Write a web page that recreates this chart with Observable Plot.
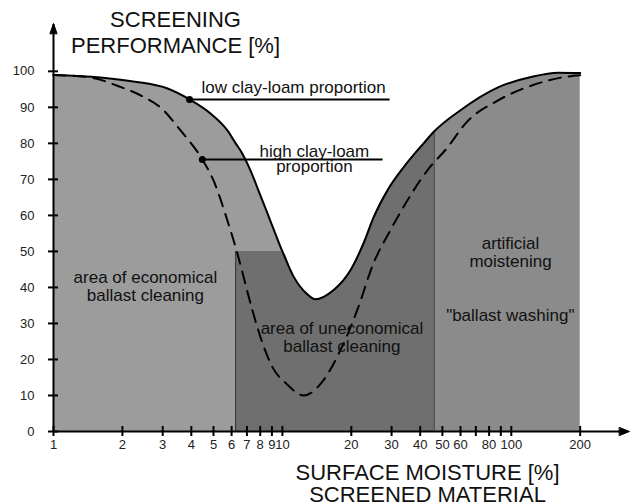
<!DOCTYPE html>
<html><head><meta charset="utf-8">
<script src="https://cdn.jsdelivr.net/npm/d3@7"></script>
<script src="https://cdn.jsdelivr.net/npm/@observablehq/plot@0.6"></script>
<style>
body{margin:0;background:#fff;}
#chart{width:632px;height:504px;}
</style>
</head><body><div id="chart"></div>
<script>
// Solid curve: low clay-loam proportion
const lowClayX = [1, 1.6, 2.23, 3.13, 3.93, 4.85, 5.75, 6.25, 6.56, 7.25, 8.02, 8.86, 10.0, 11.2, 12.9, 13.9, 16.7, 19.8, 22.6, 25.0, 28.8, 33.8, 41.4, 46, 60, 88, 122, 160, 200];
const lowClayY = [99, 98.3, 97.2, 95.3, 92.2, 88.3, 83.6, 80, 78, 72.5, 65.5, 58.5, 50, 43, 38, 36.7, 39.2, 44.7, 52.2, 59.4, 67, 73.3, 80, 83.3, 89.2, 95.6, 98.4, 99.6, 99.5];
// Dashed curve: high clay-loam proportion
const highClayX = [1, 1.45, 1.9, 2.46, 2.93, 3.59, 4.47, 5.0, 5.75, 6.36, 6.7, 7.4, 8.2, 9.06, 10.4, 12.4, 15.1, 17.9, 21.2, 25, 29.6, 35.2, 43, 52.7, 63, 88, 122, 170, 200];
const highClayY = [99, 98.3, 96, 93, 90, 83.6, 75.5, 69.7, 58.6, 49.4, 44, 33.6, 24.4, 17.8, 13.3, 10, 14.2, 22.5, 33.6, 46.7, 55.8, 64.2, 72.5, 78.9, 85.5, 92, 96, 98.4, 98.9];

const zoneBounds = [6.25, 46];
const zoneTops = [50, 83.3];
const rectTop = 50;
const curveMinX = 13.9;

const xTickValues = [1,2,3,4,5,6,7,8,9,10,20,30,40,50,60,70,80,90,100,200];
const xTickLabels = ["1","2","3","4","5","6","7","8","9","10","20","30","40","50","60","","80","","100","200"];
const yTickValues = [0,10,20,30,40,50,60,70,80,90,100];

const markerX = [3.93, 4.47];
const markerY = [92.2, 75.5];
const leaderEndX = [29.4, 27.4];

const noteText = ["low clay-loam proportion", "high clay-loam\nproportion"];
const noteX = [11.2, 13.8];
const noteY = [95.5, 75.5];

const areaText = ["area of economical\nballast cleaning", "area of uneconomical\nballast cleaning", "artificial\nmoistening", "\"ballast washing\""];
const areaX = [2.52, 18.2, 99.2, 99];
const areaY = [40.2, 26.2, 49.7, 32.3];

const yTitle = "SCREENING\nPERFORMANCE [%]";
const xTitle = "SURFACE MOISTURE [%]\nSCREENED MATERIAL";

const low = lowClayX.map((x, i) => ({x, y: lowClayY[i]}));
const high = highClayX.map((x, i) => ({x, y: highClayY[i]}));
const xLabelOf = new Map(xTickValues.map((v, i) => [v, xTickLabels[i]]));

const leftPart = low.filter(d => d.x <= zoneBounds[1]);
const rightPart = low.filter(d => d.x >= zoneBounds[1]);
const midPart = low.filter(d => d.x >= zoneBounds[0] && d.x <= zoneBounds[1])
  .map(d => ({x: d.x, y: d.x < curveMinX ? Math.min(d.y, rectTop) : d.y}));

const markers = markerX.map((x, i) => ({x, y: markerY[i], x2: leaderEndX[i]}));
const notes = noteText.map((t, i) => ({t, x: noteX[i], y: noteY[i]}));
const areas = areaText.map((t, i) => ({t, x: areaX[i], y: areaY[i]}));
const zones = zoneBounds.map((x, i) => ({x, top: zoneTops[i]}));

const arrowShape = {
  draw(ctx, l, r) {
    ctx.moveTo(-r, 0);
    ctx.lineTo(0, -l);
    ctx.lineTo(r, 0);
    ctx.closePath();
  }
};

const font = "'Liberation Sans', Arial, sans-serif";

const plot = Plot.plot({
  width: 632,
  height: 504,
  marginLeft: 53,
  marginRight: 12,
  marginTop: 24,
  marginBottom: 73,
  style: {fontFamily: font, background: "#fff", color: "#000"},
  x: {type: "log", domain: [1, 300]},
  y: {domain: [0, 113]},
  marks: [
    Plot.areaY(leftPart, {x: "x", y: "y", curve: "monotone-x", fill: "#9c9c9c"}),
    Plot.areaY(rightPart, {x: "x", y: "y", curve: "monotone-x", fill: "#8b8b8b"}),
    Plot.areaY(midPart, {x: "x", y: "y", curve: "monotone-x", fill: "#6f6f6f"}),
    Plot.ruleX(zones, {x: "x", y1: 0, y2: "top", stroke: "#333", strokeWidth: 1}),
    Plot.line(low, {x: "x", y: "y", curve: "monotone-x", stroke: "#000", strokeWidth: 2}),
    Plot.line(high, {x: "x", y: "y", curve: "monotone-x", stroke: "#000", strokeWidth: 2, strokeDasharray: "12,8"}),
    Plot.link(markers, {x1: "x", y1: "y", x2: "x2", y2: "y", stroke: "#000", strokeWidth: 2}),
    Plot.dot(markers, {x: "x", y: "y", r: 3.5, fill: "#000"}),
    Plot.text(notes.slice(0, 1), {x: "x", y: "y", text: "t", fontSize: 17, fill: "#111", lineHeight: 1}),
    Plot.text(notes.slice(1), {x: "x", y: "y", text: "t", fontSize: 17, fill: "#111", lineHeight: 0.88}),
    Plot.text(areas, {x: "x", y: "y", text: "t", fontSize: 17, fill: "#111", lineHeight: 1.06}),
    // axis lines with arrowheads
    Plot.ruleY([0], {x1: 1, x2: 300, stroke: "#000", strokeWidth: 2}),
    Plot.ruleX([1], {y1: 0, y2: 113, stroke: "#000", strokeWidth: 2}),
    Plot.vector([0], {frameAnchor: "bottom-right", rotate: 90, length: 10, r: 4, shape: arrowShape, anchor: "start", fill: "#000", stroke: "#000", strokeWidth: 1, dx: -1}),
    Plot.vector([0], {frameAnchor: "top-left", rotate: 0, length: 10, r: 3.5, shape: arrowShape, anchor: "start", fill: "#000", stroke: "#000", strokeWidth: 1, dy: 9}),
    // inner halves of ticks (ticks cross the axes)
    Plot.ruleX(xTickValues, {x: d => d, y1: 0, y2: 0, insetTop: -5, insetBottom: 0, stroke: "#000", strokeWidth: 2}),
    Plot.ruleY(yTickValues, {y: d => d, x1: 1, x2: 1, insetRight: -5, insetLeft: 0, stroke: "#000", strokeWidth: 2}),
    Plot.axisX({ticks: xTickValues, text: d => xLabelOf.get(d), tickSize: 5, tickPadding: 3, strokeWidth: 2, fontSize: 13, fill: "#222", label: null}),
    Plot.axisY({ticks: yTickValues, tickFormat: d => String(d), tickSize: 5, tickPadding: 14, strokeWidth: 2, fontSize: 13, fill: "#222", label: null}),
    // titles
    Plot.text([yTitle], {frameAnchor: "top-left", text: d => d, textAnchor: "middle", lineAnchor: "middle", dx: 122, dy: 7.5, fontSize: 22, lineHeight: 1.18, fill: "#111"}),
    Plot.text([xTitle], {frameAnchor: "bottom", text: d => d, textAnchor: "middle", lineAnchor: "middle", dx: 90.5, dy: 52.5, fontSize: 22, lineHeight: 1.0, fill: "#111"})
  ]
});
document.getElementById("chart").appendChild(plot);
</script>
</body></html>
